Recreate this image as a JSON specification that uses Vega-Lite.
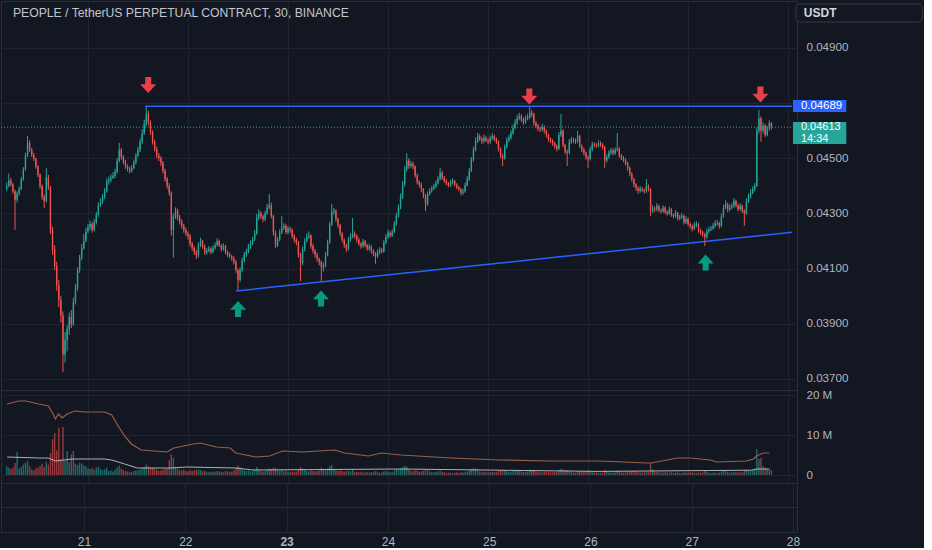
{
  "$schema": "https://vega.github.io/schema/vega-lite/v6.json",
  "background": "#131722",
  "padding": 0,
  "spacing": 0,
  "bounds": "flush",
  "resolve": {"scale": {"x": "independent", "y": "independent"}},
  "config": {
    "view": {"stroke": "#2a2e39", "strokeWidth": 1},
    "axis": {
      "labelColor": "#b2b5be", "labelFont": "Liberation Sans", "labelFontSize": 11.6,
      "gridColor": "#1f2430", "gridWidth": 1, "domain": false, "ticks": false,
      "tickSize": 0, "labelPadding": 9, "labelFlush": false
    }
  },
  "datasets": {
    "candles": [
      {"t":4.5,"o":4390,"h":4412,"l":4382,"c":4400,"v":2.2},
      {"t":5,"o":4400,"h":4445,"l":4395,"c":4420,"v":1.8},
      {"t":5.5,"o":4420,"h":4428,"l":4398,"c":4405,"v":1.5},
      {"t":6,"o":4405,"h":4410,"l":4372,"c":4380,"v":1.9},
      {"t":6.5,"o":4380,"h":4386,"l":4240,"c":4350,"v":3.0},
      {"t":7,"o":4350,"h":4380,"l":4340,"c":4372,"v":5.8},
      {"t":7.5,"o":4372,"h":4398,"l":4365,"c":4390,"v":1.6},
      {"t":8,"o":4390,"h":4432,"l":4385,"c":4425,"v":2.0},
      {"t":8.5,"o":4425,"h":4468,"l":4418,"c":4460,"v":2.6},
      {"t":9,"o":4460,"h":4520,"l":4455,"c":4510,"v":3.1},
      {"t":9.5,"o":4510,"h":4581,"l":4505,"c":4555,"v":3.5},
      {"t":10,"o":4555,"h":4565,"l":4522,"c":4530,"v":2.2},
      {"t":10.5,"o":4530,"h":4538,"l":4505,"c":4512,"v":1.4},
      {"t":11,"o":4512,"h":4520,"l":4490,"c":4498,"v":1.2},
      {"t":11.5,"o":4498,"h":4502,"l":4462,"c":4470,"v":1.7},
      {"t":12,"o":4470,"h":4475,"l":4432,"c":4440,"v":1.9},
      {"t":12.5,"o":4440,"h":4445,"l":4390,"c":4400,"v":2.3},
      {"t":13,"o":4400,"h":4405,"l":4350,"c":4360,"v":2.8},
      {"t":13.5,"o":4360,"h":4368,"l":4320,"c":4345,"v":2.0},
      {"t":14,"o":4345,"h":4465,"l":4340,"c":4430,"v":3.4},
      {"t":14.5,"o":4430,"h":4440,"l":4385,"c":4395,"v":2.6},
      {"t":15,"o":4395,"h":4400,"l":4225,"c":4240,"v":5.5},
      {"t":15.5,"o":4240,"h":4252,"l":4150,"c":4170,"v":9.0},
      {"t":16,"o":4170,"h":4185,"l":4095,"c":4110,"v":10.5},
      {"t":16.5,"o":4110,"h":4125,"l":4020,"c":4040,"v":6.2},
      {"t":17,"o":4040,"h":4060,"l":3960,"c":3985,"v":11.8},
      {"t":17.5,"o":3985,"h":4000,"l":3905,"c":3930,"v":4.0},
      {"t":18,"o":3930,"h":3945,"l":3725,"c":3790,"v":12.0},
      {"t":18.5,"o":3790,"h":3870,"l":3760,"c":3840,"v":3.5},
      {"t":19,"o":3840,"h":3895,"l":3800,"c":3880,"v":6.0},
      {"t":19.5,"o":3880,"h":3940,"l":3860,"c":3925,"v":3.2},
      {"t":20,"o":3925,"h":3950,"l":3885,"c":3900,"v":5.2},
      {"t":20.5,"o":3900,"h":3995,"l":3892,"c":3980,"v":6.0},
      {"t":21,"o":3980,"h":4045,"l":3970,"c":4030,"v":2.8},
      {"t":21.5,"o":4030,"h":4105,"l":4020,"c":4095,"v":2.5},
      {"t":22,"o":4095,"h":4150,"l":4085,"c":4140,"v":3.0},
      {"t":22.5,"o":4140,"h":4190,"l":4130,"c":4175,"v":2.9},
      {"t":23,"o":4175,"h":4225,"l":4168,"c":4200,"v":2.4},
      {"t":23.5,"o":4200,"h":4248,"l":4195,"c":4235,"v":2.2},
      {"t":24,"o":4235,"h":4262,"l":4228,"c":4250,"v":1.6},
      {"t":24.5,"o":4250,"h":4275,"l":4240,"c":4262,"v":1.5},
      {"t":25,"o":4262,"h":4270,"l":4230,"c":4240,"v":1.8},
      {"t":25.5,"o":4240,"h":4280,"l":4235,"c":4268,"v":1.3},
      {"t":26,"o":4268,"h":4305,"l":4260,"c":4295,"v":1.9},
      {"t":26.5,"o":4295,"h":4340,"l":4288,"c":4330,"v":2.1},
      {"t":27,"o":4330,"h":4355,"l":4325,"c":4342,"v":1.5},
      {"t":27.5,"o":4342,"h":4370,"l":4335,"c":4360,"v":1.2},
      {"t":28,"o":4360,"h":4392,"l":4352,"c":4380,"v":1.4},
      {"t":28.5,"o":4380,"h":4428,"l":4375,"c":4418,"v":1.8},
      {"t":29,"o":4418,"h":4435,"l":4405,"c":4422,"v":1.0},
      {"t":29.5,"o":4422,"h":4442,"l":4412,"c":4430,"v":1.1},
      {"t":30,"o":4430,"h":4450,"l":4425,"c":4436,"v":0.9},
      {"t":30.5,"o":4436,"h":4462,"l":4428,"c":4450,"v":1.3},
      {"t":31,"o":4450,"h":4500,"l":4445,"c":4490,"v":1.9},
      {"t":31.5,"o":4490,"h":4556,"l":4485,"c":4530,"v":2.4},
      {"t":32,"o":4530,"h":4538,"l":4495,"c":4505,"v":1.6},
      {"t":32.5,"o":4505,"h":4512,"l":4478,"c":4488,"v":1.2},
      {"t":33,"o":4488,"h":4495,"l":4462,"c":4470,"v":1.0},
      {"t":33.5,"o":4470,"h":4478,"l":4452,"c":4462,"v":0.9},
      {"t":34,"o":4462,"h":4470,"l":4445,"c":4455,"v":0.8},
      {"t":34.5,"o":4455,"h":4475,"l":4448,"c":4465,"v":0.7},
      {"t":35,"o":4465,"h":4495,"l":4460,"c":4485,"v":1.0},
      {"t":35.5,"o":4485,"h":4518,"l":4478,"c":4510,"v":1.2},
      {"t":36,"o":4510,"h":4542,"l":4505,"c":4530,"v":1.1},
      {"t":36.5,"o":4530,"h":4572,"l":4522,"c":4560,"v":1.4},
      {"t":37,"o":4560,"h":4605,"l":4552,"c":4590,"v":1.7},
      {"t":37.5,"o":4590,"h":4640,"l":4585,"c":4625,"v":2.0},
      {"t":38,"o":4625,"h":4690,"l":4615,"c":4660,"v":2.6},
      {"t":38.5,"o":4660,"h":4672,"l":4620,"c":4630,"v":2.2},
      {"t":39,"o":4630,"h":4638,"l":4585,"c":4595,"v":1.9},
      {"t":39.5,"o":4595,"h":4602,"l":4550,"c":4560,"v":1.8},
      {"t":40,"o":4560,"h":4568,"l":4525,"c":4535,"v":1.5},
      {"t":40.5,"o":4535,"h":4542,"l":4500,"c":4510,"v":1.3},
      {"t":41,"o":4510,"h":4520,"l":4490,"c":4500,"v":1.0},
      {"t":41.5,"o":4500,"h":4508,"l":4472,"c":4485,"v":1.1},
      {"t":42,"o":4485,"h":4490,"l":4445,"c":4455,"v":1.4},
      {"t":42.5,"o":4455,"h":4462,"l":4415,"c":4425,"v":1.6},
      {"t":43,"o":4425,"h":4432,"l":4390,"c":4400,"v":1.5},
      {"t":43.5,"o":4400,"h":4410,"l":4365,"c":4375,"v":3.8},
      {"t":44,"o":4375,"h":4380,"l":4220,"c":4240,"v":5.2},
      {"t":44.5,"o":4240,"h":4300,"l":4140,"c":4290,"v":4.3},
      {"t":45,"o":4290,"h":4322,"l":4280,"c":4310,"v":2.0},
      {"t":45.5,"o":4310,"h":4318,"l":4275,"c":4285,"v":1.6},
      {"t":46,"o":4285,"h":4295,"l":4260,"c":4270,"v":1.2},
      {"t":46.5,"o":4270,"h":4278,"l":4245,"c":4255,"v":1.1},
      {"t":47,"o":4255,"h":4262,"l":4230,"c":4240,"v":1.3},
      {"t":47.5,"o":4240,"h":4248,"l":4218,"c":4228,"v":1.0},
      {"t":48,"o":4228,"h":4235,"l":4205,"c":4218,"v":0.9},
      {"t":48.5,"o":4218,"h":4225,"l":4180,"c":4190,"v":1.2},
      {"t":49,"o":4190,"h":4198,"l":4165,"c":4175,"v":1.0},
      {"t":49.5,"o":4175,"h":4182,"l":4150,"c":4160,"v":1.1},
      {"t":50,"o":4160,"h":4168,"l":4135,"c":4148,"v":1.3},
      {"t":50.5,"o":4148,"h":4195,"l":4140,"c":4185,"v":1.4},
      {"t":51,"o":4185,"h":4212,"l":4178,"c":4200,"v":1.2},
      {"t":51.5,"o":4200,"h":4205,"l":4172,"c":4180,"v":0.9},
      {"t":52,"o":4180,"h":4188,"l":4150,"c":4158,"v":1.0},
      {"t":52.5,"o":4158,"h":4175,"l":4150,"c":4165,"v":0.8},
      {"t":53,"o":4165,"h":4182,"l":4158,"c":4172,"v":0.7},
      {"t":53.5,"o":4172,"h":4178,"l":4152,"c":4160,"v":0.8},
      {"t":54,"o":4160,"h":4185,"l":4155,"c":4175,"v":0.9},
      {"t":54.5,"o":4175,"h":4195,"l":4168,"c":4185,"v":0.8},
      {"t":55,"o":4185,"h":4210,"l":4180,"c":4200,"v":1.0},
      {"t":55.5,"o":4200,"h":4205,"l":4178,"c":4185,"v":0.9},
      {"t":56,"o":4185,"h":4190,"l":4162,"c":4170,"v":0.8},
      {"t":56.5,"o":4170,"h":4192,"l":4165,"c":4182,"v":0.7},
      {"t":57,"o":4182,"h":4186,"l":4152,"c":4160,"v":1.0},
      {"t":57.5,"o":4160,"h":4166,"l":4142,"c":4150,"v":0.9},
      {"t":58,"o":4150,"h":4158,"l":4138,"c":4145,"v":0.8},
      {"t":58.5,"o":4145,"h":4150,"l":4128,"c":4138,"v":0.9},
      {"t":59,"o":4138,"h":4144,"l":4115,"c":4125,"v":1.2},
      {"t":59.5,"o":4125,"h":4130,"l":4085,"c":4095,"v":1.8},
      {"t":60,"o":4095,"h":4100,"l":4019,"c":4060,"v":2.4},
      {"t":60.5,"o":4060,"h":4105,"l":4052,"c":4095,"v":1.9},
      {"t":61,"o":4095,"h":4140,"l":4088,"c":4130,"v":1.5},
      {"t":61.5,"o":4130,"h":4160,"l":4122,"c":4150,"v":1.2},
      {"t":62,"o":4150,"h":4172,"l":4142,"c":4162,"v":1.0},
      {"t":62.5,"o":4162,"h":4190,"l":4155,"c":4180,"v":1.1},
      {"t":63,"o":4180,"h":4202,"l":4172,"c":4192,"v":0.9},
      {"t":63.5,"o":4192,"h":4215,"l":4185,"c":4205,"v":0.9},
      {"t":64,"o":4205,"h":4240,"l":4200,"c":4228,"v":1.2},
      {"t":64.5,"o":4228,"h":4298,"l":4222,"c":4285,"v":2.0},
      {"t":65,"o":4285,"h":4315,"l":4275,"c":4300,"v":1.5},
      {"t":65.5,"o":4300,"h":4308,"l":4280,"c":4290,"v":1.0},
      {"t":66,"o":4290,"h":4296,"l":4268,"c":4278,"v":0.9},
      {"t":66.5,"o":4278,"h":4310,"l":4272,"c":4300,"v":1.0},
      {"t":67,"o":4300,"h":4335,"l":4295,"c":4322,"v":1.2},
      {"t":67.5,"o":4322,"h":4371,"l":4315,"c":4330,"v":1.6},
      {"t":68,"o":4330,"h":4340,"l":4282,"c":4290,"v":1.4},
      {"t":68.5,"o":4290,"h":4295,"l":4220,"c":4230,"v":1.8},
      {"t":69,"o":4230,"h":4238,"l":4175,"c":4185,"v":1.7},
      {"t":69.5,"o":4185,"h":4215,"l":4178,"c":4205,"v":1.2},
      {"t":70,"o":4205,"h":4242,"l":4200,"c":4230,"v":1.0},
      {"t":70.5,"o":4230,"h":4290,"l":4225,"c":4248,"v":1.3},
      {"t":71,"o":4248,"h":4265,"l":4240,"c":4255,"v":0.9},
      {"t":71.5,"o":4255,"h":4262,"l":4225,"c":4232,"v":1.0},
      {"t":72,"o":4232,"h":4255,"l":4225,"c":4245,"v":0.8},
      {"t":72.5,"o":4245,"h":4252,"l":4230,"c":4240,"v":0.7},
      {"t":73,"o":4240,"h":4246,"l":4210,"c":4218,"v":0.9},
      {"t":73.5,"o":4218,"h":4225,"l":4195,"c":4205,"v":0.8},
      {"t":74,"o":4205,"h":4212,"l":4185,"c":4195,"v":0.9},
      {"t":74.5,"o":4195,"h":4200,"l":4140,"c":4150,"v":1.5},
      {"t":75,"o":4150,"h":4158,"l":4055,"c":4120,"v":2.0},
      {"t":75.5,"o":4120,"h":4180,"l":4112,"c":4170,"v":1.6},
      {"t":76,"o":4170,"h":4210,"l":4162,"c":4200,"v":1.3},
      {"t":76.5,"o":4200,"h":4228,"l":4195,"c":4215,"v":1.0},
      {"t":77,"o":4215,"h":4235,"l":4208,"c":4220,"v":0.9},
      {"t":77.5,"o":4220,"h":4225,"l":4172,"c":4182,"v":1.2},
      {"t":78,"o":4182,"h":4190,"l":4155,"c":4165,"v":1.0},
      {"t":78.5,"o":4165,"h":4172,"l":4140,"c":4150,"v":0.9},
      {"t":79,"o":4150,"h":4158,"l":4125,"c":4135,"v":1.0},
      {"t":79.5,"o":4135,"h":4140,"l":4112,"c":4125,"v":1.1},
      {"t":80,"o":4125,"h":4130,"l":4055,"c":4105,"v":1.8},
      {"t":80.5,"o":4105,"h":4122,"l":4090,"c":4112,"v":1.4},
      {"t":81,"o":4112,"h":4160,"l":4105,"c":4150,"v":1.3},
      {"t":81.5,"o":4150,"h":4205,"l":4145,"c":4195,"v":1.6},
      {"t":82,"o":4195,"h":4270,"l":4190,"c":4260,"v":2.2},
      {"t":82.5,"o":4260,"h":4334,"l":4255,"c":4305,"v":2.5},
      {"t":83,"o":4305,"h":4320,"l":4295,"c":4310,"v":1.4},
      {"t":83.5,"o":4310,"h":4315,"l":4270,"c":4280,"v":1.2},
      {"t":84,"o":4280,"h":4285,"l":4248,"c":4258,"v":1.0},
      {"t":84.5,"o":4258,"h":4262,"l":4218,"c":4228,"v":1.1},
      {"t":85,"o":4228,"h":4232,"l":4195,"c":4205,"v":1.0},
      {"t":85.5,"o":4205,"h":4210,"l":4175,"c":4185,"v":0.9},
      {"t":86,"o":4185,"h":4190,"l":4160,"c":4172,"v":0.9},
      {"t":86.5,"o":4172,"h":4215,"l":4165,"c":4205,"v":1.1},
      {"t":87,"o":4205,"h":4228,"l":4198,"c":4215,"v":0.9},
      {"t":87.5,"o":4215,"h":4284,"l":4210,"c":4226,"v":1.4},
      {"t":88,"o":4226,"h":4235,"l":4210,"c":4218,"v":0.8},
      {"t":88.5,"o":4218,"h":4224,"l":4195,"c":4205,"v":0.8},
      {"t":89,"o":4205,"h":4212,"l":4182,"c":4190,"v":0.7},
      {"t":89.5,"o":4190,"h":4196,"l":4172,"c":4182,"v":0.8},
      {"t":90,"o":4182,"h":4208,"l":4175,"c":4198,"v":0.7},
      {"t":90.5,"o":4198,"h":4204,"l":4178,"c":4185,"v":0.6},
      {"t":91,"o":4185,"h":4190,"l":4165,"c":4172,"v":0.7},
      {"t":91.5,"o":4172,"h":4190,"l":4165,"c":4180,"v":0.6},
      {"t":92,"o":4180,"h":4185,"l":4155,"c":4165,"v":0.7},
      {"t":92.5,"o":4165,"h":4170,"l":4145,"c":4155,"v":0.8},
      {"t":93,"o":4155,"h":4160,"l":4118,"c":4145,"v":1.0},
      {"t":93.5,"o":4145,"h":4170,"l":4138,"c":4160,"v":0.8},
      {"t":94,"o":4160,"h":4178,"l":4152,"c":4168,"v":0.6},
      {"t":94.5,"o":4168,"h":4175,"l":4155,"c":4162,"v":0.6},
      {"t":95,"o":4162,"h":4205,"l":4158,"c":4195,"v":0.9},
      {"t":95.5,"o":4195,"h":4225,"l":4188,"c":4215,"v":1.0},
      {"t":96,"o":4215,"h":4242,"l":4208,"c":4230,"v":0.9},
      {"t":96.5,"o":4230,"h":4236,"l":4212,"c":4220,"v":0.7},
      {"t":97,"o":4220,"h":4242,"l":4215,"c":4232,"v":0.7},
      {"t":97.5,"o":4232,"h":4272,"l":4228,"c":4260,"v":1.1},
      {"t":98,"o":4260,"h":4302,"l":4255,"c":4292,"v":1.4},
      {"t":98.5,"o":4292,"h":4332,"l":4285,"c":4320,"v":1.3},
      {"t":99,"o":4320,"h":4372,"l":4315,"c":4360,"v":1.6},
      {"t":99.5,"o":4360,"h":4418,"l":4352,"c":4405,"v":2.0},
      {"t":100,"o":4405,"h":4472,"l":4398,"c":4460,"v":2.3},
      {"t":100.5,"o":4460,"h":4519,"l":4452,"c":4492,"v":2.1},
      {"t":101,"o":4492,"h":4500,"l":4462,"c":4472,"v":1.4},
      {"t":101.5,"o":4472,"h":4490,"l":4465,"c":4480,"v":1.0},
      {"t":102,"o":4480,"h":4488,"l":4460,"c":4470,"v":0.9},
      {"t":102.5,"o":4470,"h":4475,"l":4430,"c":4438,"v":1.2},
      {"t":103,"o":4438,"h":4445,"l":4405,"c":4415,"v":1.1},
      {"t":103.5,"o":4415,"h":4420,"l":4395,"c":4405,"v":0.8},
      {"t":104,"o":4405,"h":4412,"l":4378,"c":4388,"v":0.9},
      {"t":104.5,"o":4388,"h":4392,"l":4355,"c":4365,"v":1.0},
      {"t":105,"o":4365,"h":4370,"l":4309,"c":4335,"v":1.4},
      {"t":105.5,"o":4335,"h":4380,"l":4328,"c":4370,"v":1.2},
      {"t":106,"o":4370,"h":4392,"l":4365,"c":4382,"v":0.9},
      {"t":106.5,"o":4382,"h":4400,"l":4375,"c":4390,"v":0.7},
      {"t":107,"o":4390,"h":4408,"l":4385,"c":4398,"v":0.7},
      {"t":107.5,"o":4398,"h":4420,"l":4392,"c":4410,"v":0.8},
      {"t":108,"o":4410,"h":4435,"l":4405,"c":4426,"v":0.9},
      {"t":108.5,"o":4426,"h":4465,"l":4420,"c":4448,"v":1.1},
      {"t":109,"o":4448,"h":4455,"l":4422,"c":4430,"v":0.8},
      {"t":109.5,"o":4430,"h":4436,"l":4410,"c":4418,"v":0.7},
      {"t":110,"o":4418,"h":4425,"l":4402,"c":4410,"v":0.6},
      {"t":110.5,"o":4410,"h":4415,"l":4395,"c":4402,"v":0.6},
      {"t":111,"o":4402,"h":4422,"l":4396,"c":4412,"v":0.6},
      {"t":111.5,"o":4412,"h":4428,"l":4405,"c":4418,"v":0.5},
      {"t":112,"o":4418,"h":4422,"l":4398,"c":4405,"v":0.6},
      {"t":112.5,"o":4405,"h":4410,"l":4388,"c":4395,"v":0.6},
      {"t":113,"o":4395,"h":4400,"l":4380,"c":4388,"v":0.5},
      {"t":113.5,"o":4388,"h":4392,"l":4366,"c":4375,"v":0.7},
      {"t":114,"o":4375,"h":4390,"l":4368,"c":4380,"v":0.6},
      {"t":114.5,"o":4380,"h":4412,"l":4375,"c":4402,"v":0.8},
      {"t":115,"o":4402,"h":4435,"l":4398,"c":4425,"v":0.9},
      {"t":115.5,"o":4425,"h":4465,"l":4418,"c":4455,"v":1.2},
      {"t":116,"o":4455,"h":4505,"l":4450,"c":4495,"v":1.5},
      {"t":116.5,"o":4495,"h":4542,"l":4488,"c":4530,"v":1.7},
      {"t":117,"o":4530,"h":4575,"l":4525,"c":4562,"v":1.6},
      {"t":117.5,"o":4562,"h":4592,"l":4555,"c":4580,"v":1.3},
      {"t":118,"o":4580,"h":4588,"l":4562,"c":4570,"v":0.9},
      {"t":118.5,"o":4570,"h":4578,"l":4552,"c":4562,"v":0.8},
      {"t":119,"o":4562,"h":4586,"l":4555,"c":4575,"v":0.8},
      {"t":119.5,"o":4575,"h":4582,"l":4558,"c":4565,"v":0.7},
      {"t":120,"o":4565,"h":4572,"l":4550,"c":4560,"v":0.7},
      {"t":120.5,"o":4560,"h":4582,"l":4552,"c":4572,"v":0.7},
      {"t":121,"o":4572,"h":4592,"l":4566,"c":4580,"v":0.8},
      {"t":121.5,"o":4580,"h":4586,"l":4562,"c":4570,"v":0.7},
      {"t":122,"o":4570,"h":4576,"l":4552,"c":4560,"v":0.7},
      {"t":122.5,"o":4560,"h":4565,"l":4525,"c":4535,"v":1.0},
      {"t":123,"o":4535,"h":4540,"l":4500,"c":4510,"v":1.1},
      {"t":123.5,"o":4510,"h":4518,"l":4472,"c":4500,"v":1.2},
      {"t":124,"o":4500,"h":4550,"l":4495,"c":4540,"v":1.1},
      {"t":124.5,"o":4540,"h":4575,"l":4535,"c":4565,"v":1.0},
      {"t":125,"o":4565,"h":4585,"l":4558,"c":4575,"v":0.8},
      {"t":125.5,"o":4575,"h":4602,"l":4568,"c":4592,"v":0.9},
      {"t":126,"o":4592,"h":4622,"l":4585,"c":4612,"v":1.0},
      {"t":126.5,"o":4612,"h":4642,"l":4605,"c":4630,"v":1.1},
      {"t":127,"o":4630,"h":4658,"l":4622,"c":4645,"v":1.2},
      {"t":127.5,"o":4645,"h":4665,"l":4638,"c":4652,"v":1.0},
      {"t":128,"o":4652,"h":4660,"l":4632,"c":4640,"v":0.9},
      {"t":128.5,"o":4640,"h":4648,"l":4622,"c":4632,"v":0.8},
      {"t":129,"o":4632,"h":4655,"l":4625,"c":4645,"v":0.8},
      {"t":129.5,"o":4645,"h":4662,"l":4638,"c":4650,"v":0.9},
      {"t":130,"o":4650,"h":4686,"l":4642,"c":4665,"v":1.3},
      {"t":130.5,"o":4665,"h":4675,"l":4648,"c":4660,"v":1.0},
      {"t":131,"o":4660,"h":4665,"l":4618,"c":4628,"v":1.2},
      {"t":131.5,"o":4628,"h":4635,"l":4608,"c":4618,"v":0.9},
      {"t":132,"o":4618,"h":4625,"l":4598,"c":4608,"v":0.8},
      {"t":132.5,"o":4608,"h":4615,"l":4595,"c":4605,"v":0.7},
      {"t":133,"o":4605,"h":4625,"l":4598,"c":4614,"v":0.7},
      {"t":133.5,"o":4614,"h":4620,"l":4590,"c":4600,"v":0.8},
      {"t":134,"o":4600,"h":4605,"l":4575,"c":4585,"v":0.8},
      {"t":134.5,"o":4585,"h":4590,"l":4560,"c":4570,"v":0.9},
      {"t":135,"o":4570,"h":4576,"l":4555,"c":4564,"v":0.7},
      {"t":135.5,"o":4564,"h":4570,"l":4545,"c":4555,"v":0.7},
      {"t":136,"o":4555,"h":4560,"l":4535,"c":4545,"v":0.8},
      {"t":136.5,"o":4545,"h":4550,"l":4525,"c":4535,"v":0.8},
      {"t":137,"o":4535,"h":4595,"l":4530,"c":4585,"v":1.2},
      {"t":137.5,"o":4585,"h":4661,"l":4578,"c":4600,"v":1.6},
      {"t":138,"o":4600,"h":4605,"l":4540,"c":4548,"v":1.4},
      {"t":138.5,"o":4548,"h":4552,"l":4515,"c":4525,"v":1.1},
      {"t":139,"o":4525,"h":4532,"l":4472,"c":4520,"v":1.2},
      {"t":139.5,"o":4520,"h":4570,"l":4515,"c":4560,"v":1.0},
      {"t":140,"o":4560,"h":4578,"l":4552,"c":4568,"v":0.8},
      {"t":140.5,"o":4568,"h":4575,"l":4555,"c":4565,"v":0.7},
      {"t":141,"o":4565,"h":4572,"l":4552,"c":4562,"v":0.6},
      {"t":141.5,"o":4562,"h":4599,"l":4555,"c":4580,"v":0.9},
      {"t":142,"o":4580,"h":4585,"l":4538,"c":4545,"v":1.0},
      {"t":142.5,"o":4545,"h":4550,"l":4522,"c":4532,"v":0.8},
      {"t":143,"o":4532,"h":4538,"l":4510,"c":4520,"v":0.8},
      {"t":143.5,"o":4520,"h":4525,"l":4495,"c":4505,"v":0.9},
      {"t":144,"o":4505,"h":4510,"l":4465,"c":4498,"v":1.1},
      {"t":144.5,"o":4498,"h":4542,"l":4492,"c":4532,"v":1.0},
      {"t":145,"o":4532,"h":4560,"l":4525,"c":4550,"v":0.8},
      {"t":145.5,"o":4550,"h":4558,"l":4540,"c":4548,"v":0.6},
      {"t":146,"o":4548,"h":4555,"l":4538,"c":4545,"v":0.6},
      {"t":146.5,"o":4545,"h":4565,"l":4540,"c":4555,"v":0.6},
      {"t":147,"o":4555,"h":4562,"l":4542,"c":4550,"v":0.5},
      {"t":147.5,"o":4550,"h":4555,"l":4532,"c":4540,"v":0.6},
      {"t":148,"o":4540,"h":4545,"l":4465,"c":4492,"v":1.2},
      {"t":148.5,"o":4492,"h":4515,"l":4485,"c":4505,"v":0.9},
      {"t":149,"o":4505,"h":4530,"l":4498,"c":4520,"v":0.7},
      {"t":149.5,"o":4520,"h":4538,"l":4512,"c":4528,"v":0.6},
      {"t":150,"o":4528,"h":4535,"l":4510,"c":4518,"v":0.6},
      {"t":150.5,"o":4518,"h":4540,"l":4512,"c":4530,"v":0.6},
      {"t":151,"o":4530,"h":4592,"l":4525,"c":4535,"v":1.1},
      {"t":151.5,"o":4535,"h":4540,"l":4502,"c":4510,"v":0.9},
      {"t":152,"o":4510,"h":4515,"l":4494,"c":4502,"v":0.7},
      {"t":152.5,"o":4502,"h":4508,"l":4486,"c":4495,"v":0.6},
      {"t":153,"o":4495,"h":4500,"l":4474,"c":4482,"v":0.7},
      {"t":153.5,"o":4482,"h":4488,"l":4455,"c":4465,"v":0.8},
      {"t":154,"o":4465,"h":4470,"l":4435,"c":4445,"v":0.9},
      {"t":154.5,"o":4445,"h":4450,"l":4415,"c":4425,"v":0.9},
      {"t":155,"o":4425,"h":4430,"l":4395,"c":4405,"v":1.0},
      {"t":155.5,"o":4405,"h":4410,"l":4382,"c":4392,"v":0.8},
      {"t":156,"o":4392,"h":4398,"l":4372,"c":4382,"v":0.8},
      {"t":156.5,"o":4382,"h":4400,"l":4375,"c":4390,"v":0.6},
      {"t":157,"o":4390,"h":4395,"l":4378,"c":4385,"v":0.6},
      {"t":157.5,"o":4385,"h":4390,"l":4372,"c":4380,"v":0.6},
      {"t":158,"o":4380,"h":4425,"l":4375,"c":4400,"v":0.8},
      {"t":158.5,"o":4400,"h":4405,"l":4380,"c":4388,"v":0.7},
      {"t":159,"o":4388,"h":4392,"l":4290,"c":4310,"v":3.0},
      {"t":159.5,"o":4310,"h":4330,"l":4302,"c":4318,"v":1.4},
      {"t":160,"o":4318,"h":4325,"l":4305,"c":4315,"v":0.9},
      {"t":160.5,"o":4315,"h":4338,"l":4308,"c":4328,"v":0.8},
      {"t":161,"o":4328,"h":4332,"l":4305,"c":4312,"v":0.7},
      {"t":161.5,"o":4312,"h":4318,"l":4300,"c":4308,"v":0.6},
      {"t":162,"o":4308,"h":4330,"l":4302,"c":4322,"v":0.6},
      {"t":162.5,"o":4322,"h":4326,"l":4298,"c":4305,"v":0.7},
      {"t":163,"o":4305,"h":4312,"l":4292,"c":4300,"v":0.6},
      {"t":163.5,"o":4300,"h":4325,"l":4295,"c":4315,"v":0.6},
      {"t":164,"o":4315,"h":4320,"l":4288,"c":4295,"v":0.7},
      {"t":164.5,"o":4295,"h":4300,"l":4282,"c":4290,"v":0.6},
      {"t":165,"o":4290,"h":4312,"l":4285,"c":4302,"v":0.6},
      {"t":165.5,"o":4302,"h":4306,"l":4275,"c":4282,"v":0.7},
      {"t":166,"o":4282,"h":4295,"l":4275,"c":4286,"v":0.5},
      {"t":166.5,"o":4286,"h":4302,"l":4280,"c":4292,"v":0.5},
      {"t":167,"o":4292,"h":4296,"l":4260,"c":4268,"v":0.7},
      {"t":167.5,"o":4268,"h":4290,"l":4262,"c":4280,"v":0.6},
      {"t":168,"o":4280,"h":4285,"l":4255,"c":4262,"v":0.6},
      {"t":168.5,"o":4262,"h":4268,"l":4245,"c":4255,"v":0.6},
      {"t":169,"o":4255,"h":4260,"l":4235,"c":4245,"v":0.7},
      {"t":169.5,"o":4245,"h":4268,"l":4240,"c":4258,"v":0.6},
      {"t":170,"o":4258,"h":4272,"l":4250,"c":4262,"v":0.5},
      {"t":170.5,"o":4262,"h":4266,"l":4230,"c":4238,"v":0.7},
      {"t":171,"o":4238,"h":4245,"l":4222,"c":4232,"v":0.6},
      {"t":171.5,"o":4232,"h":4238,"l":4215,"c":4225,"v":0.7},
      {"t":172,"o":4225,"h":4230,"l":4182,"c":4215,"v":1.0},
      {"t":172.5,"o":4215,"h":4245,"l":4208,"c":4235,"v":0.8},
      {"t":173,"o":4235,"h":4252,"l":4228,"c":4242,"v":0.6},
      {"t":173.5,"o":4242,"h":4255,"l":4236,"c":4246,"v":0.5},
      {"t":174,"o":4246,"h":4265,"l":4240,"c":4255,"v":0.6},
      {"t":174.5,"o":4255,"h":4275,"l":4248,"c":4264,"v":0.6},
      {"t":175,"o":4264,"h":4276,"l":4256,"c":4266,"v":0.5},
      {"t":175.5,"o":4266,"h":4270,"l":4245,"c":4255,"v":0.6},
      {"t":176,"o":4255,"h":4300,"l":4250,"c":4290,"v":0.9},
      {"t":176.5,"o":4290,"h":4332,"l":4285,"c":4320,"v":1.1},
      {"t":177,"o":4320,"h":4348,"l":4315,"c":4334,"v":1.0},
      {"t":177.5,"o":4334,"h":4340,"l":4305,"c":4315,"v":0.8},
      {"t":178,"o":4315,"h":4332,"l":4308,"c":4322,"v":0.6},
      {"t":178.5,"o":4322,"h":4338,"l":4315,"c":4328,"v":0.6},
      {"t":179,"o":4328,"h":4356,"l":4320,"c":4345,"v":0.8},
      {"t":179.5,"o":4345,"h":4350,"l":4322,"c":4330,"v":0.7},
      {"t":180,"o":4330,"h":4335,"l":4308,"c":4316,"v":0.7},
      {"t":180.5,"o":4316,"h":4338,"l":4310,"c":4328,"v":0.6},
      {"t":181,"o":4328,"h":4332,"l":4302,"c":4310,"v":0.7},
      {"t":181.5,"o":4310,"h":4315,"l":4255,"c":4300,"v":1.2},
      {"t":182,"o":4300,"h":4355,"l":4295,"c":4345,"v":1.3},
      {"t":182.5,"o":4345,"h":4372,"l":4338,"c":4362,"v":1.1},
      {"t":183,"o":4362,"h":4388,"l":4355,"c":4375,"v":1.0},
      {"t":183.5,"o":4375,"h":4398,"l":4370,"c":4388,"v":1.2},
      {"t":184,"o":4388,"h":4410,"l":4380,"c":4400,"v":1.5},
      {"t":184.5,"o":4400,"h":4612,"l":4395,"c":4600,"v":6.5},
      {"t":185,"o":4600,"h":4675,"l":4590,"c":4645,"v":4.0},
      {"t":185.5,"o":4645,"h":4652,"l":4560,"c":4600,"v":4.3},
      {"t":186,"o":4600,"h":4630,"l":4590,"c":4618,"v":2.2},
      {"t":186.5,"o":4618,"h":4625,"l":4578,"c":4585,"v":1.8},
      {"t":187,"o":4585,"h":4618,"l":4580,"c":4608,"v":1.5},
      {"t":187.5,"o":4608,"h":4638,"l":4600,"c":4628,"v":1.4},
      {"t":188,"o":4628,"h":4632,"l":4605,"c":4613,"v":1.2}
    ],
    "vma": [
      {"t":4.6,"m":4.5},{"t":12.2,"m":4.25},{"t":14.5,"m":4.25},{"t":16.2,"m":3.5},
      {"t":20.2,"m":4.0},{"t":28,"m":4.0},{"t":29.7,"m":3.75},{"t":32.8,"m":2.75},
      {"t":35.8,"m":1.75},{"t":43.9,"m":1.75},{"t":47.7,"m":2.0},{"t":59.5,"m":1.75},
      {"t":63.6,"m":1.25},{"t":99.1,"m":1.5},{"t":146.5,"m":0.9},{"t":183.2,"m":1.2},
      {"t":184.4,"m":1.5},{"t":187.5,"m":1.5}
    ],
    "bma": [
      {"t":4.6,"m":17.75},{"t":7.4,"m":18.5},{"t":9.1,"m":18.5},{"t":12.2,"m":17.75},
      {"t":14.5,"m":17.25},{"t":15.5,"m":15.5},{"t":16.2,"m":14},{"t":16.9,"m":15.25},
      {"t":17.8,"m":14.25},{"t":19,"m":15.25},{"t":20.9,"m":16},{"t":23.3,"m":15.75},
      {"t":28,"m":15.75},{"t":29.7,"m":15},{"t":31.1,"m":12.5},{"t":32.8,"m":9.75},
      {"t":34.4,"m":7.75},{"t":36.8,"m":6.25},{"t":43,"m":5.75},{"t":44.6,"m":6.75},
      {"t":49.4,"m":7.75},{"t":51,"m":8},{"t":54.8,"m":7},{"t":58.1,"m":6.75},
      {"t":59.5,"m":5.5},{"t":64.3,"m":4.5},{"t":67.6,"m":4.75},{"t":70.7,"m":6},
      {"t":75.4,"m":5.75},{"t":83.2,"m":6.25},{"t":85.6,"m":5.5},{"t":91.3,"m":4.75},
      {"t":94.4,"m":5.5},{"t":99.1,"m":5},{"t":111,"m":4.25},{"t":122.8,"m":3.75},
      {"t":134.7,"m":3.5},{"t":146.5,"m":3.5},{"t":158.3,"m":3},{"t":159.1,"m":3},
      {"t":165.5,"m":4.25},{"t":168.5,"m":4.25},{"t":173.3,"m":3.75},{"t":174.9,"m":3.25},
      {"t":182,"m":3.5},{"t":183.7,"m":4},{"t":184.4,"m":4.75},{"t":186.1,"m":5.5},
      {"t":187.5,"m":5.5}
    ],
    "trend": [
      {"t":37.74,"p":4689,"t2":192.94,"p2":4689},
      {"t":59.54,"p":4019,"t2":192.94,"p2":4232}
    ],
    "arrows": [
      {"t":38.45,"p":4766,"k":"down"},
      {"t":129.91,"p":4724,"k":"down"},
      {"t":185.36,"p":4731,"k":"down"},
      {"t":60.02,"p":3954,"k":"up"},
      {"t":79.92,"p":3992,"k":"up"},
      {"t":172.21,"p":4122,"k":"up"}
    ]
  },
  "vconcat": [
    {
      "width": 796,
      "height": 389,
      "layer": [
        {
          "data": {"name": "candles"},
          "mark": {"type": "rule", "strokeWidth": 1},
          "encoding": {
            "x": {
              "field": "t", "type": "quantitative",
              "scale": {"domain": [4.33, 192.94], "nice": false, "zero": false},
              "axis": {"values": [24, 48, 72, 96, 120, 144, 168, 192], "grid": true, "labels": false, "title": null}
            },
            "y": {
              "field": "l", "type": "quantitative",
              "scale": {"domain": [3660, 5070.4], "nice": false, "zero": false},
              "axis": {
                "orient": "right", "grid": true, "title": null,
                "values": [3700, 3800, 3900, 4000, 4100, 4200, 4300, 4400, 4500, 4600, 4700, 4800, 4900, 5000],
                "labelExpr": "datum.value == 4600 || datum.value == 4700 || datum.value == 5000 ? '' : format(datum.value / 100000, '.5f')"
              }
            },
            "y2": {"field": "h"},
            "color": {"condition": {"test": "datum.c >= datum.o", "value": "#26a69a"}, "value": "#ef5350"}
          }
        },
        {
          "data": {"name": "candles"},
          "mark": {"type": "bar", "width": 1.4},
          "encoding": {
            "x": {"field": "t", "type": "quantitative"},
            "y": {"field": "o", "type": "quantitative"},
            "y2": {"field": "c"},
            "color": {"condition": {"test": "datum.c >= datum.o", "value": "#26a69a"}, "value": "#ef5350"}
          }
        },
        {
          "data": {"values": [{}]},
          "mark": {"type": "rule", "color": "#26a69a", "strokeDash": [1, 2], "strokeWidth": 1},
          "encoding": {"y": {"datum": 4613, "type": "quantitative"}}
        },
        {
          "data": {"name": "trend"},
          "mark": {"type": "rule", "color": "#2962ff", "strokeWidth": 1.5},
          "encoding": {
            "x": {"field": "t", "type": "quantitative"},
            "x2": {"field": "t2"},
            "y": {"field": "p", "type": "quantitative"},
            "y2": {"field": "p2"}
          }
        },
        {
          "data": {"name": "arrows"},
          "transform": [{"filter": "datum.k == 'down'"}],
          "mark": {
            "type": "point", "filled": true, "opacity": 1, "size": 256, "color": "#e8404a",
            "shape": "M -0.38 -1 L 0.38 -1 L 0.38 -0.1 L 1 -0.1 L 0 1 L -1 -0.1 L -0.38 -0.1 Z"
          },
          "encoding": {
            "x": {"field": "t", "type": "quantitative"},
            "y": {"field": "p", "type": "quantitative"}
          }
        },
        {
          "data": {"name": "arrows"},
          "transform": [{"filter": "datum.k == 'up'"}],
          "mark": {
            "type": "point", "filled": true, "opacity": 1, "size": 256, "color": "#089981",
            "shape": "M -0.38 1 L 0.38 1 L 0.38 0.1 L 1 0.1 L 0 -1 L -1 0.1 L -0.38 0.1 Z"
          },
          "encoding": {
            "x": {"field": "t", "type": "quantitative"},
            "y": {"field": "p", "type": "quantitative"}
          }
        },
        {
          "data": {"values": [{}]},
          "mark": {"type": "rect", "color": "#2962ff"},
          "encoding": {
            "x": {"datum": 193.18, "type": "quantitative"},
            "x2": {"datum": 205.97},
            "y": {"datum": 4711.5, "type": "quantitative"},
            "y2": {"datum": 4668}
          }
        },
        {
          "data": {"values": [{}]},
          "mark": {"type": "text", "text": "0.04689", "color": "#ffffff", "font": "Liberation Sans", "fontSize": 11.4, "align": "left", "baseline": "middle"},
          "encoding": {
            "x": {"datum": 195.07, "type": "quantitative"},
            "y": {"datum": 4689.7, "type": "quantitative"}
          }
        },
        {
          "data": {"values": [{}]},
          "mark": {"type": "rect", "color": "#26a69a"},
          "encoding": {
            "x": {"datum": 193.18, "type": "quantitative"},
            "x2": {"datum": 205.97},
            "y": {"datum": 4631.7, "type": "quantitative"},
            "y2": {"datum": 4551.8}
          }
        },
        {
          "data": {"values": [{}]},
          "mark": {"type": "text", "text": "0.04613", "color": "#ffffff", "font": "Liberation Sans", "fontSize": 11, "align": "left", "baseline": "middle"},
          "encoding": {
            "x": {"datum": 195.07, "type": "quantitative"},
            "y": {"datum": 4612, "type": "quantitative"}
          }
        },
        {
          "data": {"values": [{}]},
          "mark": {"type": "text", "text": "14:34", "color": "#ffffff", "font": "Liberation Sans", "fontSize": 11, "align": "left", "baseline": "middle"},
          "encoding": {
            "x": {"datum": 195.07, "type": "quantitative"},
            "y": {"datum": 4570, "type": "quantitative"}
          }
        },
        {
          "data": {"values": [{}]},
          "mark": {"type": "rect", "fill": "#131722", "stroke": "#363a45", "strokeWidth": 1, "cornerRadius": 4},
          "encoding": {
            "x": {"datum": 193.89, "type": "quantitative"},
            "x2": {"datum": 224.22},
            "y": {"datum": 5059.5, "type": "quantitative"},
            "y2": {"datum": 4994.3}
          }
        },
        {
          "data": {"values": [{}]},
          "mark": {"type": "text", "text": "USDT", "color": "#d1d4dc", "font": "Liberation Sans", "fontSize": 12, "fontWeight": "bold", "align": "left", "baseline": "middle"},
          "encoding": {
            "x": {"datum": 195.78, "type": "quantitative"},
            "y": {"datum": 5026.9, "type": "quantitative"}
          }
        },
        {
          "data": {"values": [{}]},
          "mark": {"type": "text", "text": "PEOPLE / TetherUS PERPETUAL CONTRACT, 30, BINANCE", "color": "#c3c6ce", "font": "Liberation Sans", "fontSize": 12.2, "align": "left", "baseline": "middle"},
          "encoding": {
            "x": {"datum": 5.99, "type": "quantitative"},
            "y": {"datum": 5026.9, "type": "quantitative"}
          }
        }
      ]
    },
    {
      "width": 796,
      "height": 93,
      "layer": [
        {
          "data": {"name": "candles"},
          "mark": {"type": "bar", "width": 1.4, "opacity": 0.6},
          "encoding": {
            "x": {
              "field": "t", "type": "quantitative",
              "scale": {"domain": [4.33, 192.94], "nice": false, "zero": false},
              "axis": {"values": [24, 48, 72, 96, 120, 144, 168, 192], "grid": true, "labels": false, "title": null}
            },
            "y": {
              "field": "v", "type": "quantitative",
              "scale": {"domain": [-2, 21.25], "nice": false, "zero": false},
              "axis": {
                "orient": "right", "grid": true, "title": null, "values": [0, 10, 20],
                "labelExpr": "datum.value == 0 ? '0' : datum.value + ' M'"
              }
            },
            "y2": {"datum": 0},
            "color": {"condition": {"test": "datum.c >= datum.o", "value": "#26a69a"}, "value": "#ef5350"}
          }
        },
        {
          "data": {"name": "vma"},
          "mark": {"type": "line", "color": "#c8cad0", "strokeWidth": 1, "opacity": 0.85},
          "encoding": {
            "x": {"field": "t", "type": "quantitative"},
            "y": {"field": "m", "type": "quantitative"}
          }
        },
        {
          "data": {"name": "bma"},
          "mark": {"type": "line", "color": "#9b5f48", "strokeWidth": 1.2},
          "encoding": {
            "x": {"field": "t", "type": "quantitative"},
            "y": {"field": "m", "type": "quantitative"}
          }
        }
      ]
    },
    {
      "width": 796,
      "height": 24,
      "data": {"name": "trend"},
      "mark": {"type": "point", "opacity": 0},
      "encoding": {
        "x": {
          "field": "t", "type": "quantitative",
          "scale": {"domain": [4.33, 192.94], "nice": false, "zero": false},
          "axis": {"values": [24, 48, 72, 96, 120, 144, 168, 192], "grid": true, "labels": false, "title": null}
        },
        "y": {"datum": 0, "type": "quantitative", "axis": null}
      }
    },
    {
      "width": 796,
      "height": 25,
      "data": {"name": "trend"},
      "mark": {"type": "point", "opacity": 0},
      "encoding": {
        "x": {
          "field": "t", "type": "quantitative",
          "scale": {"domain": [4.33, 192.94], "nice": false, "zero": false},
          "axis": {
            "values": [24, 48, 72, 96, 120, 144, 168, 192], "grid": true, "labels": true, "title": null,
            "labelExpr": "'' + (datum.value / 24 + 20)",
            "labelFontSize": 12, "labelPadding": 4,
            "labelFontWeight": {"condition": {"test": "datum.value == 72", "value": "bold"}, "value": "normal"}
          }
        },
        "y": {"datum": 0, "type": "quantitative", "axis": null}
      }
    }
  ]
}
